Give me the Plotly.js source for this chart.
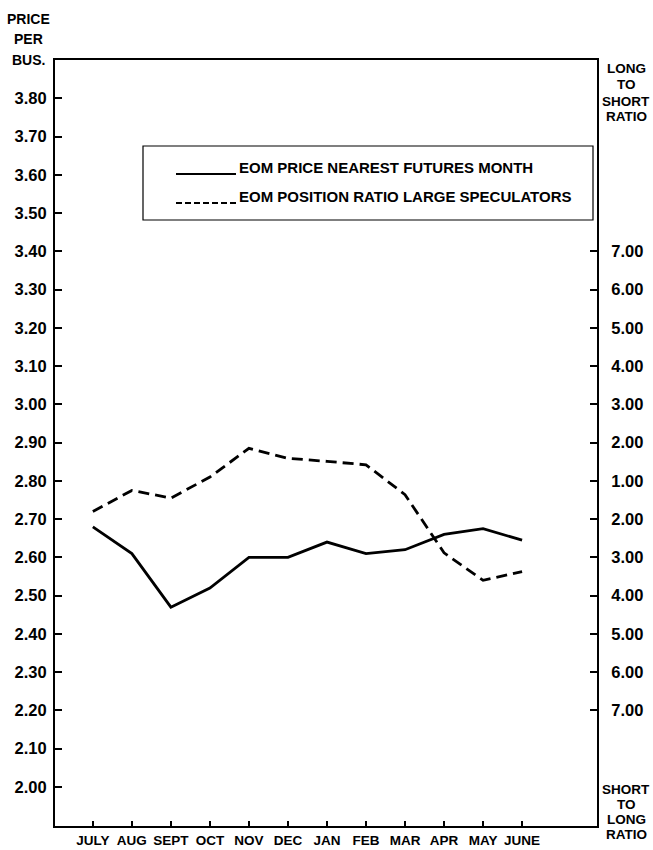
<!DOCTYPE html>
<html>
<head>
<meta charset="utf-8">
<script src="https://cdn.plot.ly/plotly-3.0.1.min.js"></script>
<style>html,body{margin:0;padding:0;background:#fff;}#chart{width:653px;height:850px;}</style>
</head>
<body>
<div id="chart"></div>
<script>
// ---- data ----
var months = ['JULY','AUG','SEPT','OCT','NOV','DEC','JAN','FEB','MAR','APR','MAY','JUNE'];
var price = [2.68, 2.61, 2.47, 2.52, 2.60, 2.60, 2.64, 2.61, 2.62, 2.66, 2.675, 2.645];
// position ratio of large speculators, with side: 'L' = long-to-short ratio, 'S' = short-to-long ratio
var ratio = [1.80, 1.25, 1.45, 1.10, 1.85, 1.59, 1.51, 1.42, 1.36, 2.88, 3.60, 3.37];
var ratioSide = ['S','S','S','L','L','L','L','L','S','S','S','S'];
var priceTicks = [2.00, 2.10, 2.20, 2.30, 2.40, 2.50, 2.60, 2.70, 2.80, 2.90, 3.00, 3.10, 3.20, 3.30, 3.40, 3.50, 3.60, 3.70, 3.80];
var longTicks = [1, 2, 3, 4, 5, 6, 7];
var shortTicks = [2, 3, 4, 5, 6, 7];
var legendLabels = ['EOM PRICE NEAREST FUTURES MONTH', 'EOM POSITION RATIO LARGE SPECULATORS'];
var leftTitle = ['PRICE', 'PER', 'BUS.'];
var rightTopTitle = ['LONG', 'TO', 'SHORT', 'RATIO'];
var rightBottomTitle = ['SHORT', 'TO', 'LONG', 'RATIO'];

// ratio scale: long r -> r, short s -> 2 - s (1.00 is where the two meet)
function ratioCoord(r, side) { return side === 'L' ? r : 2 - r; }
var ratioY = ratio.map(function (r, i) { return ratioCoord(r, ratioSide[i]); });
var r2Vals = [], r2Text = [];
shortTicks.forEach(function (s) { r2Vals.push(ratioCoord(s, 'S')); r2Text.push(s.toFixed(2)); });
longTicks.forEach(function (l) { r2Vals.push(ratioCoord(l, 'L')); r2Text.push(l.toFixed(2)); });

// ---- layout geometry (pixels) ----
var W = 653, H = 850;
var L = 55, R = 597, T = 60, B = 826;
function px(x) { return (x - L) / (R - L); }
function py(y) { return (B - y) / (B - T); }

var FONT = 'Liberation Sans Narrow, Liberation Sans, Arial, sans-serif';
var pMin = 1.898, pMax = 3.90;

var traces = [
  { x: months, y: price, type: 'scatter', mode: 'lines', name: legendLabels[0],
    line: { color: '#000', width: 2.8 }, yaxis: 'y', showlegend: false },
  { x: months, y: ratioY, type: 'scatter', mode: 'lines', name: legendLabels[1],
    line: { color: '#000', width: 2.8, dash: '11px,6px' }, yaxis: 'y2', showlegend: false }
];

var annotations = [];
function addText(t, x, y, size, xanchor) {
  annotations.push({ text: t, xref: 'paper', yref: 'paper', x: px(x), y: py(y),
    xanchor: xanchor || 'center', yanchor: 'middle', showarrow: false,
    font: { family: FONT, size: size, color: '#000', weight: 'bold' } });
}
var leftY = [19, 39, 60];
leftTitle.forEach(function (t, i) { addText(t, 28, leftY[i], 14); });
var rtY = [68, 84, 101, 117];
rightTopTitle.forEach(function (t, i) { addText(t, 626, rtY[i], 13.5); });
var rbY = [789, 804, 819, 834];
rightBottomTitle.forEach(function (t, i) { addText(t, 626, rbY[i], 13.5); });
addText(legendLabels[0], 237, 167, 15, 'left');
addText(legendLabels[1], 237, 196, 15, 'left');

var shapes = [
  { type: 'rect', xref: 'paper', yref: 'paper', x0: px(143), x1: px(593), y0: py(146), y1: py(220),
    line: { color: '#000', width: 1.2 }, fillcolor: 'rgba(0,0,0,0)' },
  { type: 'line', xref: 'paper', yref: 'paper', x0: px(176), x1: px(236), y0: py(174), y1: py(174),
    line: { color: '#000', width: 2 } },
  { type: 'line', xref: 'paper', yref: 'paper', x0: px(176), x1: px(236), y0: py(203), y1: py(203),
    line: { color: '#000', width: 2, dash: '6px,3px' } }
];

var layout = {
  width: W, height: H,
  margin: { l: L, r: W - R, t: T, b: H - B, pad: 0 },
  paper_bgcolor: '#fff', plot_bgcolor: '#fff',
  showlegend: false,
  xaxis: {
    type: 'category', range: [-0.97, 12.92], tickangle: 0, automargin: false,
    showline: true, mirror: true, linecolor: '#000', linewidth: 2,
    ticks: 'inside', ticklen: 5, tickwidth: 1.5, tickcolor: '#000',
    showgrid: false, zeroline: false, ticklabelstandoff: 1,
    tickfont: { family: FONT, size: 13.5, color: '#000', weight: 'bold' }
  },
  yaxis: {
    range: [pMin, pMax], tickvals: priceTicks, ticktext: priceTicks.map(function (v) { return v.toFixed(2); }),
    showline: true, linecolor: '#000', linewidth: 2, automargin: false,
    ticks: 'inside', ticklen: 7, tickwidth: 2, tickcolor: '#000',
    showgrid: false, zeroline: false, ticklabelstandoff: 3,
    tickfont: { family: FONT, size: 16.5, color: '#000', weight: 'bold' }
  },
  yaxis2: {
    overlaying: 'y', side: 'right', automargin: false,
    range: [(pMin - 2.70) * 10, (pMax - 2.70) * 10],
    tickvals: r2Vals, ticktext: r2Text,
    showline: true, linecolor: '#000', linewidth: 2,
    ticks: 'inside', ticklen: 7, tickwidth: 2, tickcolor: '#000',
    showgrid: false, zeroline: false, ticklabelstandoff: 9,
    tickfont: { family: FONT, size: 16.5, color: '#000', weight: 'bold' }
  },
  annotations: annotations,
  shapes: shapes
};

Plotly.newPlot('chart', traces, layout, { displayModeBar: false, staticPlot: true });
</script>
</body>
</html>
